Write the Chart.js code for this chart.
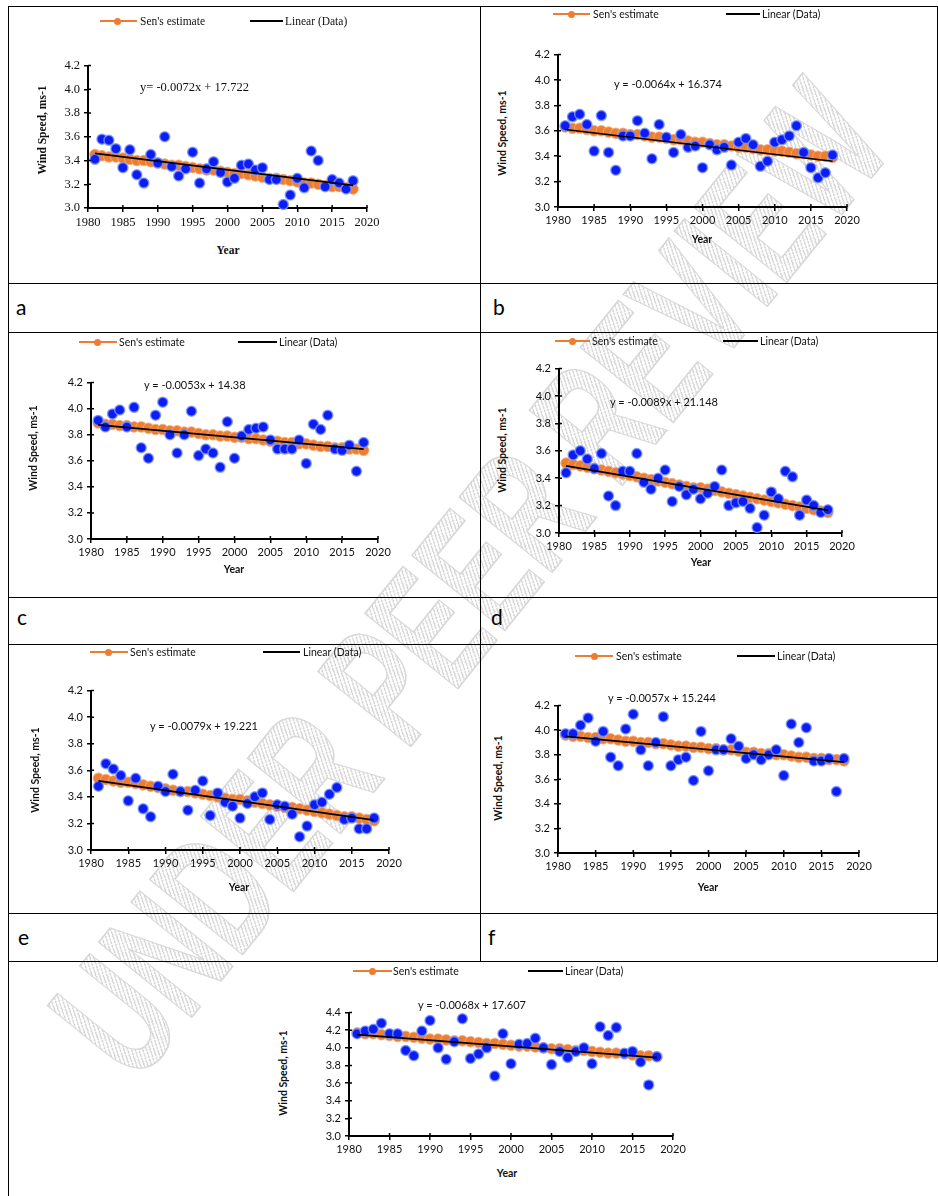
<!DOCTYPE html>
<html>
<head>
<meta charset="utf-8">
<script src="https://cdn.jsdelivr.net/npm/chart.js@4.4.1/dist/chart.umd.min.js"></script>
<style>
  body { margin: 0; background: #fff; width: 938px; height: 1196px; position: relative; overflow: hidden; font-family: Lato, sans-serif; color: #111; }
  .t { position: absolute; white-space: nowrap; line-height: 1; }
  .hl { position: absolute; height: 1px; background: #000; }
  .vl { position: absolute; width: 1px; background: #000; }
  canvas { position: absolute; }
  .lbl { position: absolute; font-size: 21px; font-family: Lato, sans-serif; color: #000; line-height: 1; }
  .wm {
    position: absolute; left: 470px; top: 580px; white-space: nowrap;
    font: bold 112px "Liberation Sans", sans-serif; line-height: 1;
    color: transparent; -webkit-text-stroke: 1px #d8d8d8;
    background: repeating-linear-gradient(135deg, #d2d2d2 0 1px, transparent 1px 3px);
    -webkit-background-clip: text; background-clip: text;
    transform: translate(-50%, -50%) rotate(-51deg) scale(1, 1.55);
  }
</style>
</head>
<body>
<div class="wm">UNDER PEER REVIEW</div>
<script>
// ---------- Data ----------
const years = [1981, 1982, 1983, 1984, 1985, 1986, 1987, 1988, 1989, 1990,
  1991, 1992, 1993, 1994, 1995, 1996, 1997, 1998, 1999, 2000,
  2001, 2002, 2003, 2004, 2005, 2006, 2007, 2008, 2009, 2010,
  2011, 2012, 2013, 2014, 2015, 2016, 2017, 2018];
const trendYears = [1981, 2018];
const xTicks = [1980, 1985, 1990, 1995, 2000, 2005, 2010, 2015, 2020];
const yTicks = [3.0, 3.2, 3.4, 3.6, 3.8, 4.0, 4.2];
const yTicksG = [3.0, 3.2, 3.4, 3.6, 3.8, 4.0, 4.2, 4.4];

const dataA = [3.41, 3.58, 3.57, 3.50, 3.34, 3.49, 3.28, 3.21, 3.45, 3.38, 3.60, 3.35, 3.27, 3.33, 3.47, 3.21, 3.33, 3.39, 3.30, 3.22,
  3.25, 3.36, 3.37, 3.32, 3.34, 3.24, 3.24, 3.03, 3.11, 3.25, 3.17, 3.48, 3.40, 3.18, 3.24, 3.21, 3.16, 3.23];
const senA = [3.45, 3.44, 3.43, 3.43, 3.42, 3.41, 3.40, 3.40, 3.39, 3.38, 3.37, 3.36, 3.36, 3.35, 3.34, 3.33, 3.32, 3.32, 3.31, 3.30,
  3.29, 3.29, 3.28, 3.27, 3.26, 3.25, 3.25, 3.24, 3.23, 3.22, 3.21, 3.21, 3.20, 3.19, 3.18, 3.18, 3.17, 3.16];
const trendA = [3.46, 3.19];

const dataB = [3.64, 3.71, 3.73, 3.65, 3.44, 3.72, 3.43, 3.29, 3.56, 3.56, 3.68, 3.58, 3.38, 3.65, 3.55, 3.43, 3.57, 3.47, 3.48, 3.31,
  3.49, 3.45, 3.47, 3.33, 3.51, 3.54, 3.49, 3.32, 3.36, 3.51, 3.53, 3.56, 3.64, 3.43, 3.31, 3.23, 3.27, 3.41];
const senB = [3.63, 3.62, 3.62, 3.61, 3.60, 3.60, 3.59, 3.58, 3.58, 3.57, 3.57, 3.56, 3.55, 3.55, 3.54, 3.53, 3.53, 3.52, 3.51, 3.51,
  3.50, 3.49, 3.49, 3.48, 3.47, 3.47, 3.46, 3.45, 3.45, 3.44, 3.44, 3.43, 3.42, 3.42, 3.41, 3.40, 3.40, 3.39];
const trendB = [3.61, 3.36];

const dataC = [3.91, 3.86, 3.96, 3.99, 3.86, 4.01, 3.70, 3.62, 3.95, 4.05, 3.80, 3.66, 3.80, 3.98, 3.64, 3.69, 3.66, 3.55, 3.90, 3.62,
  3.79, 3.84, 3.85, 3.86, 3.76, 3.69, 3.69, 3.69, 3.76, 3.58, 3.88, 3.84, 3.95, 3.69, 3.68, 3.72, 3.52, 3.74];
const senC = [3.89, 3.88, 3.88, 3.87, 3.87, 3.86, 3.86, 3.85, 3.84, 3.84, 3.83, 3.83, 3.82, 3.82, 3.81, 3.80, 3.80, 3.79, 3.79, 3.78,
  3.78, 3.77, 3.77, 3.76, 3.75, 3.75, 3.74, 3.74, 3.73, 3.73, 3.72, 3.71, 3.71, 3.70, 3.70, 3.69, 3.69, 3.68];
const trendC = [3.875, 3.69];

const dataD = [3.44, 3.57, 3.60, 3.54, 3.47, 3.58, 3.27, 3.20, 3.45, 3.45, 3.58, 3.37, 3.32, 3.40, 3.46, 3.23, 3.34, 3.28, 3.32, 3.25,
  3.29, 3.34, 3.46, 3.20, 3.22, 3.23, 3.18, 3.04, 3.13, 3.30, 3.25, 3.45, 3.41, 3.13, 3.24, 3.20, 3.15, 3.17];
const senD = [3.51, 3.50, 3.49, 3.48, 3.47, 3.46, 3.45, 3.44, 3.43, 3.42, 3.41, 3.40, 3.39, 3.38, 3.37, 3.36, 3.35, 3.34, 3.33, 3.33,
  3.32, 3.31, 3.30, 3.29, 3.28, 3.27, 3.26, 3.25, 3.24, 3.23, 3.22, 3.21, 3.20, 3.19, 3.18, 3.17, 3.16, 3.15];
const trendD = [3.49, 3.165];

const dataE = [3.48, 3.65, 3.61, 3.56, 3.37, 3.54, 3.31, 3.25, 3.48, 3.44, 3.57, 3.44, 3.30, 3.45, 3.52, 3.26, 3.43, 3.36, 3.33, 3.24,
  3.35, 3.40, 3.43, 3.23, 3.34, 3.33, 3.27, 3.10, 3.18, 3.34, 3.36, 3.42, 3.47, 3.23, 3.24, 3.16, 3.16, 3.24];
const senE = [3.54, 3.53, 3.52, 3.51, 3.51, 3.50, 3.49, 3.48, 3.47, 3.46, 3.45, 3.44, 3.44, 3.43, 3.42, 3.41, 3.40, 3.39, 3.38, 3.38,
  3.37, 3.36, 3.35, 3.34, 3.33, 3.32, 3.32, 3.31, 3.30, 3.29, 3.28, 3.27, 3.26, 3.25, 3.25, 3.24, 3.23, 3.22];
const trendE = [3.52, 3.225];

const dataF = [3.97, 3.97, 4.04, 4.10, 3.91, 3.99, 3.78, 3.71, 4.01, 4.13, 3.84, 3.71, 3.90, 4.11, 3.71, 3.76, 3.78, 3.59, 3.99, 3.67,
  3.84, 3.84, 3.93, 3.87, 3.77, 3.80, 3.76, 3.80, 3.84, 3.63, 4.05, 3.90, 4.02, 3.75, 3.75, 3.77, 3.50, 3.77];
const senF = [3.96, 3.95, 3.95, 3.94, 3.94, 3.93, 3.93, 3.92, 3.91, 3.91, 3.90, 3.90, 3.89, 3.89, 3.88, 3.87, 3.87, 3.86, 3.86, 3.85,
  3.85, 3.84, 3.84, 3.83, 3.82, 3.82, 3.81, 3.81, 3.80, 3.80, 3.79, 3.78, 3.78, 3.77, 3.77, 3.76, 3.76, 3.75];
const trendF = [3.95, 3.74];

const dataG = [4.16, 4.19, 4.21, 4.28, 4.16, 4.16, 3.97, 3.91, 4.19, 4.31, 4.00, 3.87, 4.07, 4.33, 3.88, 3.93, 4.00, 3.68, 4.16, 3.82,
  4.04, 4.05, 4.11, 4.00, 3.81, 3.96, 3.89, 3.96, 4.00, 3.82, 4.24, 4.14, 4.23, 3.94, 3.96, 3.84, 3.58, 3.90];
const senG = [4.17, 4.16, 4.16, 4.15, 4.14, 4.13, 4.13, 4.12, 4.11, 4.10, 4.10, 4.09, 4.08, 4.08, 4.07, 4.06, 4.05, 4.05, 4.04, 4.03,
  4.02, 4.02, 4.01, 4.00, 3.99, 3.99, 3.98, 3.97, 3.97, 3.96, 3.95, 3.94, 3.94, 3.93, 3.92, 3.91, 3.91, 3.90];
const trendG = [4.15, 3.89];

const equations = ["y= -0.0072x + 17.722", "y = -0.0064x + 16.374", "y = -0.0053x + 14.38", "y = -0.0089x + 21.148",
  "y = -0.0079x + 19.221", "y = -0.0057x + 15.244", "y = -0.0068x + 17.607"];
const panelLabels = ["a", "b", "c", "d", "e", "f"];

// ---------- Layout ----------
// box: pixel spots of 1980 / 2020 and top / bottom y ticks; leg: legend pieces
const panels = [
  { data: dataA, sen: senA, trend: trendA, eq: equations[0], yt: yTicks, serif: true,
    box: [88, 367, 64, 208], ytitle: [42, 130], xtitle: [228, 250], eqPos: [140, 87], leg: [100, 137, 117, 140, 250, 283, 285, 21] },
  { data: dataB, sen: senB, trend: trendB, eq: equations[1], yt: yTicks,
    box: [558, 847, 54, 207], ytitle: [502, 133], xtitle: [702, 239], eqPos: [614, 83], leg: [553, 590, 571, 593, 726, 760, 762, 14] },
  { data: dataC, sen: senC, trend: trendC, eq: equations[2], yt: yTicks,
    box: [91, 378, 382, 539], ytitle: [33, 448], xtitle: [234, 569], eqPos: [144, 384], leg: [79, 117, 97, 119, 238, 277, 279, 342] },
  { data: dataD, sen: senD, trend: trendD, eq: equations[3], yt: yTicks,
    box: [559, 842, 368, 533], ytitle: [502, 450], xtitle: [701, 562], eqPos: [610, 401], leg: [555, 590, 572, 592, 723, 758, 760, 341] },
  { data: dataE, sen: senE, trend: trendE, eq: equations[4], yt: yTicks,
    box: [91, 389, 690, 850], ytitle: [35, 770], xtitle: [239, 887], eqPos: [150, 725], leg: [90, 128, 108, 130, 263, 300, 303, 652] },
  { data: dataF, sen: senF, trend: trendF, eq: equations[5], yt: yTicks,
    box: [558, 859, 705, 853], ytitle: [498, 778], xtitle: [708, 887], eqPos: [608, 697], leg: [575, 613, 594, 616, 737, 775, 777, 656] },
  { data: dataG, sen: senG, trend: trendG, eq: equations[6], yt: yTicksG,
    box: [349, 673, 1012, 1136], ytitle: [283, 1073], xtitle: [507, 1173], eqPos: [418, 1004], leg: [353, 392, 372, 393, 528, 563, 565, 971] }
];

const ORANGE = "#ed7d31";
const BLUE = "#0c1cf2";

function el(cls, css, text) {
  const d = document.createElement("div");
  d.className = cls;
  Object.assign(d.style, css);
  if (text !== undefined) d.textContent = text;
  document.body.appendChild(d);
  return d;
}

// table lines
[6, 283, 332, 597, 644, 913, 961].forEach(y => el("hl", { left: "8px", top: y + "px", width: "930px" }));
el("vl", { left: "8px", top: "6px", height: "1190px" });
el("vl", { left: "480px", top: "6px", height: "955px" });
el("vl", { left: "937px", top: "6px", height: "955px" });
[[16, 296], [493, 296], [17, 606], [491, 606], [18, 926], [488, 926]].forEach((p, i) =>
  el("lbl", { left: p[0] + "px", top: p[1] + "px" }, panelLabels[i]));

// small inner tick marks (axis ticks cross the axis line)
const crossTicks = {
  id: "crossTicks",
  afterDraw(chart) {
    const { ctx, scales: { x, y } } = chart;
    ctx.save();
    ctx.strokeStyle = "#000";
    ctx.lineWidth = 1.5;
    ctx.beginPath();
    x.ticks.forEach(t => { const px = x.getPixelForValue(t.value); ctx.moveTo(px, y.bottom); ctx.lineTo(px, y.bottom - 3); });
    y.ticks.forEach(t => { const py = y.getPixelForValue(t.value); ctx.moveTo(x.left, py); ctx.lineTo(x.left + 3, py); });
    ctx.stroke();
    ctx.restore();
  }
};

function makePanel(p) {
  const [L, R, T, B] = p.box;
  const yW = 50, xH = 30, padT = 10, padR = 22;
  const fam = p.serif ? "'Liberation Serif', serif" : "Lato, sans-serif";
  const tickSize = p.serif ? 12.5 : 11;

  const cv = document.createElement("canvas");
  cv.width = R - L + yW + padR;
  cv.height = B - T + padT + xH;
  cv.style.left = (L - yW) + "px";
  cv.style.top = (T - padT) + "px";
  document.body.appendChild(cv);

  new Chart(cv, {
    type: "scatter",
    data: {
      datasets: [
        {
          label: "Linear (Data)",
          data: trendYears.map((yr, i) => ({ x: yr, y: p.trend[i] })),
          showLine: true, borderColor: "#000", borderWidth: 1.7, pointRadius: 0
        },
        {
          label: "Data",
          data: years.map((yr, i) => ({ x: yr, y: p.data[i] })),
          pointRadius: 5, pointBackgroundColor: BLUE,
          pointBorderColor: "rgba(120,150,255,0.8)", pointBorderWidth: 1.5
        },
        {
          label: "Sen's estimate",
          data: years.map((yr, i) => ({ x: yr, y: p.sen[i] })),
          showLine: true, borderColor: ORANGE, borderWidth: 2,
          pointRadius: 5.3, pointBackgroundColor: ORANGE,
          pointBorderColor: "rgba(245,170,120,0.9)", pointBorderWidth: 1
        }
      ]
    },
    options: {
      responsive: false,
      animation: false,
      events: [],
      clip: false,
      layout: { padding: { left: 0, top: padT, right: padR, bottom: 0 } },
      plugins: { legend: { display: false }, tooltip: { enabled: false } },
      scales: {
        x: {
          type: "linear", min: 1980, max: 2020,
          afterBuildTicks: s => { s.ticks = xTicks.map(v => ({ value: v })); },
          afterFit: s => { s.height = xH; },
          ticks: { color: "#111", font: { family: fam, size: tickSize }, padding: 3, callback: v => String(v) },
          grid: { drawOnChartArea: false, drawTicks: true, tickLength: 4, color: "#000", lineWidth: 1.5 },
          border: { color: "#000", width: 2 }
        },
        y: {
          min: p.yt[0], max: p.yt[p.yt.length - 1],
          afterBuildTicks: s => { s.ticks = p.yt.map(v => ({ value: v })); },
          afterFit: s => { s.width = yW; },
          ticks: { color: "#111", font: { family: fam, size: tickSize }, padding: 4, callback: v => v.toFixed(1) },
          grid: { drawOnChartArea: false, drawTicks: true, tickLength: 4, color: "#000", lineWidth: 1.5 },
          border: { color: "#000", width: 2 }
        }
      }
    },
    plugins: [crossTicks]
  });

  // texts around the plot
  const titleFont = p.serif ? "bold 11.5px 'Liberation Serif', serif" : "bold 10.5px Lato, sans-serif";
  const smallFont = p.serif ? "11.5px 'Liberation Serif', serif" : "10.5px Lato, sans-serif";
  const eqFont = p.serif ? "12.5px 'Liberation Serif', serif" : "11px Lato, sans-serif";
  el("t", { left: p.ytitle[0] + "px", top: p.ytitle[1] + "px", font: titleFont, transform: "translate(-50%,-50%) rotate(-90deg)" }, "Wind Speed, ms-1");
  el("t", { left: p.xtitle[0] + "px", top: p.xtitle[1] + "px", font: titleFont, transform: "translate(-50%,-50%)" }, "Year");
  el("t", { left: p.eqPos[0] + "px", top: p.eqPos[1] + "px", font: eqFont, transform: "translateY(-50%)" }, p.eq);

  const [oL, oR, oM, oT, bL, bR, bT, cy] = p.leg;
  el("t", { left: oL + "px", top: (cy - 1) + "px", width: (oR - oL) + "px", height: "2px", background: ORANGE });
  el("t", { left: (oM - 3.5) + "px", top: (cy - 3.5) + "px", width: "7px", height: "7px", borderRadius: "50%", background: ORANGE });
  el("t", { left: oT + "px", top: cy + "px", font: smallFont, transform: "translateY(-50%)" }, "Sen's estimate");
  el("t", { left: bL + "px", top: (cy - 1) + "px", width: (bR - bL) + "px", height: "2px", background: "#000" });
  el("t", { left: bT + "px", top: cy + "px", font: smallFont, transform: "translateY(-50%)" }, "Linear (Data)");
}

panels.forEach(makePanel);
</script>
</body>
</html>
